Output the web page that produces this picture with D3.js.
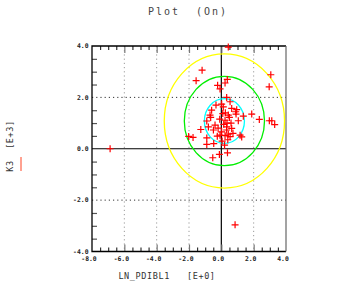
<!DOCTYPE html>
<html><head><meta charset="utf-8">
<script src="https://cdn.jsdelivr.net/npm/d3@7"></script>
<style>
html,body{margin:0;padding:0;background:#fff;}
svg text{font-family:"DejaVu Sans Mono",monospace;white-space:pre;}
</style></head>
<body><svg id="c" width="357" height="290"></svg>
<script>
const xTicks = [-8, -6, -4, -2, 0, 2, 4];
const yTicks = [-4, -2, 0, 2, 4];
const gridX = [-6, -4, -2, 2];
const gridY = [-2, 2];
const ptsX = [-6.88, 0.43, -1.19, -1.56, 0.37, 0.23, -0.23, -0.08, 3.06, 2.96, 0.33, -0.33, 0.02, 0.54, 0.64, 0.12, -0.60, -0.70, -0.66, 0.09, 0.43, 0.89, 0.95, 0.91, 0.50, 0.23, -0.90, -0.39, 0.33, 0.64, 1.05, 1.36, 1.88, 2.35, 2.97, 3.12, 3.30, -1.27, -0.80, -0.49, 0.02, 0.33, -2.02, -1.75, -0.90, -0.25, -0.08, 0.23, 0.43, 0.54, 0.72, 1.16, 1.26, -0.90, -0.47, 0.20, 0.38, -0.12, -0.53, 0.85, 0.15, 0.35, -0.10, 0.60, 0.25, -0.20, 0.05, 0.40];
const ptsY = [0.00, 3.96, 3.06, 2.65, 2.70, 2.56, 2.47, 2.33, 2.88, 2.41, 2.00, 1.70, 1.74, 1.83, 1.57, 1.63, 1.50, 1.31, 1.22, 1.37, 1.31, 1.44, 1.52, 1.35, 1.22, 1.11, 1.08, 0.92, 0.85, 0.79, 1.09, 1.27, 1.35, 1.14, 1.09, 1.09, 0.94, 0.75, 0.85, 0.73, 0.66, 0.73, 0.48, 0.44, 0.42, 0.49, 0.53, 0.51, 0.57, 0.47, 0.60, 0.53, 0.46, 0.17, 0.20, 0.14, -0.16, -0.22, -0.35, -2.96, 0.95, 1.00, 1.15, 1.00, 1.40, 0.80, 0.30, 0.35];
// confidence ellipses: center and semi-axes (data units)
const ellCenter = [0.19, 1.08];
const ellRx = [1.24, 2.48, 3.72];
const ellRy = [0.87, 1.74, 2.61];
const ellColors = ["#00ffff", "#00ee00", "#ffff00"];

const svg = d3.select("#c");
const L = 92, R = 286, T = 46, B = 251.5;
const x = d3.scaleLinear().domain([-8, 4]).range([L, R]);
const y = d3.scaleLinear().domain([-4, 4]).range([B, T]);
const minorX = d3.range(-8, 4.01, 0.5).filter(v => v % 2 !== 0);
const minorY = d3.range(-4, 4.01, 0.5).filter(v => v % 2 !== 0);

// grid
svg.append("g").selectAll("line").data(gridX).join("line")
  .attr("x1", d => x(d)).attr("x2", d => x(d)).attr("y1", T).attr("y2", B)
  .attr("stroke", "#9a9a9a").attr("stroke-width", 1).attr("stroke-dasharray", "1.2,3");
svg.append("g").selectAll("line").data(gridY).join("line")
  .attr("y1", d => y(d)).attr("y2", d => y(d)).attr("x1", L).attr("x2", R)
  .attr("stroke", "#333").attr("stroke-width", 1).attr("stroke-dasharray", "1.2,3");

// zero lines
svg.append("line").attr("x1", x(0)).attr("x2", x(0)).attr("y1", T).attr("y2", B).attr("stroke", "#000").attr("stroke-width", 1.2);
svg.append("line").attr("x1", L).attr("x2", R).attr("y1", y(0)).attr("y2", y(0)).attr("stroke", "#000").attr("stroke-width", 1.2);

// ticks via d3 axes (inward)
function tickAxis(axisFn, scale, vals, size, color, transform) {
  const g = svg.append("g").attr("transform", transform)
    .call(axisFn(scale).tickValues(vals).tickSize(size).tickFormat(""));
  g.select(".domain").remove();
  g.selectAll("line").attr("stroke", color).attr("stroke-width", 1.2);
}
tickAxis(d3.axisTop, x, minorX, -4, "#333", `translate(0,${T})`);
tickAxis(d3.axisTop, x, xTicks.slice(1, -1), -7, "#777", `translate(0,${T})`);
tickAxis(d3.axisBottom, x, minorX, -4, "#333", `translate(0,${B})`);
tickAxis(d3.axisBottom, x, xTicks.slice(1, -1), -7, "#777", `translate(0,${B})`);
tickAxis(d3.axisLeft, y, minorY, -5, "#555", `translate(${L},0)`);

// frame
svg.append("path").attr("d", `M${R},${T}H${L}V${B}H${R}`).attr("fill", "none").attr("stroke", "#000").attr("stroke-width", 1.3);
svg.append("line").attr("x1", R).attr("x2", R).attr("y1", T).attr("y2", B).attr("stroke", "#666").attr("stroke-width", 1.2);

// ellipses
svg.append("g").selectAll("ellipse").data(ellRx).join("ellipse")
  .attr("cx", x(ellCenter[0])).attr("cy", y(ellCenter[1]))
  .attr("rx", d => x(ellCenter[0] + d) - x(ellCenter[0]))
  .attr("ry", (d, i) => y(ellCenter[1]) - y(ellCenter[1] + ellRy[i]))
  .attr("fill", "none").attr("stroke", (d, i) => ellColors[i]).attr("stroke-width", 1.3);

// points
const pts = ptsX.map((v, i) => [v, ptsY[i]]);
svg.append("g").selectAll("path").data(pts).join("path")
  .attr("d", d => `M${x(d[0]) - 3.5},${y(d[1])}h7M${x(d[0])},${y(d[1]) - 3.5}v7`)
  .attr("stroke", "#ff0000").attr("stroke-width", 1.2).attr("fill", "none");

// tick labels
const fmt = d => d.toFixed(1);
svg.append("g").selectAll("text").data(xTicks).join("text")
  .attr("x", d => x(d) - 3).attr("y", 261).attr("text-anchor", "middle")
  .attr("font-size", 6.4).attr("font-weight", "bold").attr("fill", "#222").text(fmt);
svg.append("g").selectAll("text").data(yTicks).join("text")
  .attr("x", 88.5).attr("y", d => y(d) + 2.2).attr("text-anchor", "end")
  .attr("font-size", 6.4).attr("font-weight", "bold").attr("fill", "#222").text(fmt);

// titles
svg.append("text").attr("x", 188).attr("y", 15).attr("text-anchor", "middle")
  .attr("font-size", 10).attr("letter-spacing", 2).attr("fill", "#444").text("Plot  (On)");
svg.append("text").attr("x", 167).attr("y", 279).attr("text-anchor", "middle")
  .attr("font-size", 8.5).attr("letter-spacing", 0.6).attr("fill", "#333").text("LN_PDIBL1   [E+0]");
svg.append("text").attr("transform", "translate(12.5,146) rotate(-90)").attr("text-anchor", "middle")
  .attr("font-size", 8.5).attr("letter-spacing", 0.6).attr("fill", "#333").text("K3  [E+3]");
svg.append("line").attr("x1", 21).attr("x2", 21).attr("y1", 157).attr("y2", 171).attr("stroke", "#ff4422").attr("stroke-width", 1);
</script></body></html>
